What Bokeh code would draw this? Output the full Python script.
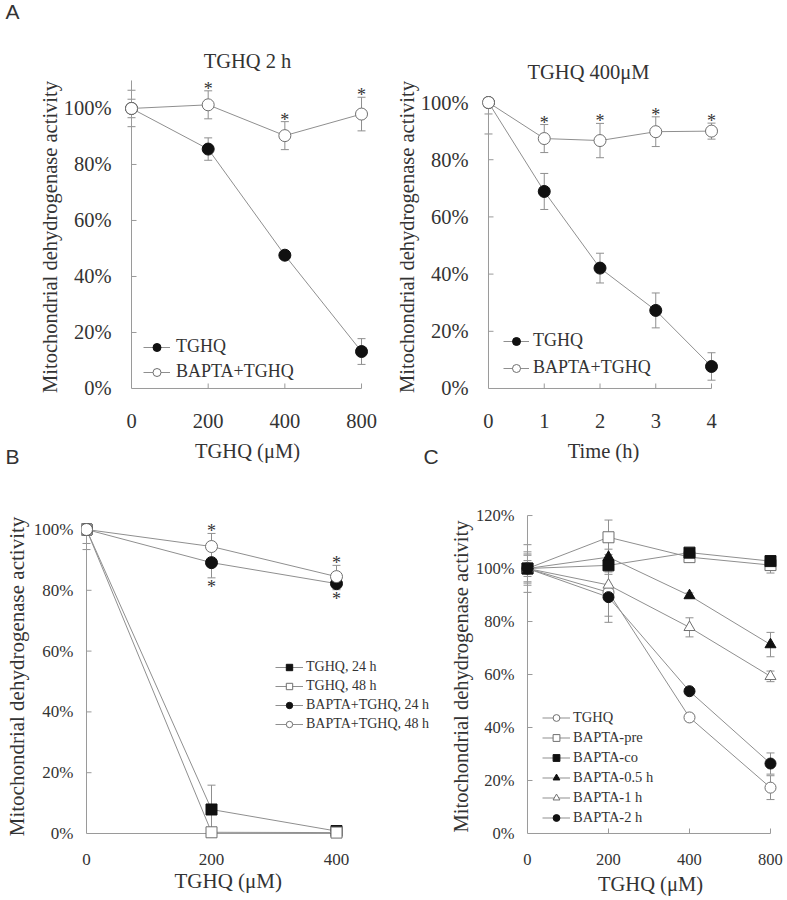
import math
from bokeh.plotting import figure
from bokeh.models import (ColumnDataSource, Whisker, TeeHead, Legend, LegendItem,
                          FixedTicker, PrintfTickFormatter, Range1d, Title)
from bokeh.layouts import row, column
from bokeh.embed import file_html
from bokeh.resources import INLINE
from bokeh.core.properties import value

# ------------------------------------------------------------------ data
# Panel A, left: TGHQ 2 h (dose response)
a1_labels = ["0", "200", "400", "800"]
a1_tghq = [100, 85.5, 47.6, 13.2]
a1_tghq_err = [3.3, 4.0, 1.5, 4.6]
a1_bapta = [100, 101.3, 90.3, 98.0]
a1_bapta_err = [6.5, 5.0, 5.0, 6.0]
a1_sig = [1, 2, 3]

# Panel A, right: TGHQ 400 uM (time course)
a2_time = [0, 1, 2, 3, 4]
a2_tghq = [100, 68.9, 42.1, 27.3, 7.7]
a2_tghq_err = [4.0, 6.3, 5.2, 6.1, 4.8]
a2_bapta = [100, 87.4, 86.7, 89.8, 90.0]
a2_bapta_err = [11.0, 4.9, 6.0, 5.2, 2.8]
a2_sig = [1, 2, 3, 4]

# Panel B
b_conc = [0, 200, 400]
b_tghq24 = [100, 7.9, 0.8]
b_tghq24_err = [6.6, 8.0, 0.5]
b_tghq48 = [100, 0.4, 0.3]
b_tghq48_err = [4.6, 0.4, 0.3]
b_bapta24 = [100, 89.1, 82.2]
b_bapta24_err = [0.0, 5.0, 2.0]
b_bapta48 = [100, 94.4, 84.5]
b_bapta48_err = [0.0, 4.3, 3.7]
b_sig = [1, 2]

# Panel C
c_labels = ["0", "200", "400", "800"]
c_tghq = [100, 91.0, 43.8, 17.3]
c_tghq_err = [9.0, 9.0, 1.5, 4.5]
c_pre = [100, 111.8, 104.3, 101.3]
c_pre_err = [5.5, 6.5, 1.0, 3.0]
c_co = [100, 101.2, 106.0, 102.8]
c_co_err = [2.0, 2.0, 1.0, 2.0]
c_h05 = [100, 104.3, 89.8, 71.3]
c_h05_err = [6.3, 3.0, 1.0, 4.6]
c_h1 = [100, 93.8, 77.8, 59.3]
c_h1_err = [5.0, 4.0, 3.6, 2.0]
c_h2 = [100, 89.2, 53.7, 26.4]
c_h2_err = [3.0, 9.5, 1.0, 4.0]

pct_ticks_100 = [0, 20, 40, 60, 80, 100]
pct_ticks_120 = [0, 20, 40, 60, 80, 100, 120]

# ------------------------------------------------------------------ style
SERIF = "Liberation Serif"
SANS = "Liberation Sans"
TXT = "#333333"
AX = "#9a9a9a"
LN = "#8f8f8f"
EDGE = "#6f6f6f"
BLACK = "#111111"


def make_panel(frame_w, frame_h, borders, xr, yr, xbound, ybound, xticks,
               yticks, tick_px, label_px, xlabel, ylabel, x_standoff,
               y_standoff, xlab_standoff, ylab_standoff):
    left, right, top, bottom = borders
    p = figure(frame_width=frame_w, frame_height=frame_h,
               x_range=Range1d(*xr), y_range=Range1d(*yr),
               output_backend="svg", toolbar_location=None,
               min_border_left=left, min_border_right=right,
               min_border_top=top, min_border_bottom=bottom)
    p.outline_line_color = None
    p.xgrid.visible = False
    p.ygrid.visible = False
    for ax in (p.xaxis[0], p.yaxis[0]):
        ax.axis_line_color = None
        ax.major_tick_line_color = None
        ax.minor_tick_line_color = None
        ax.major_tick_out = 0
        ax.major_tick_in = 0
        ax.minor_tick_out = 0
        ax.minor_tick_in = 0
        ax.major_label_text_font = SERIF
        ax.major_label_text_color = TXT
        ax.major_label_text_font_size = tick_px
        ax.axis_label_text_font = SERIF
        ax.axis_label_text_font_style = "normal"
        ax.axis_label_text_color = TXT
        ax.axis_label_text_font_size = label_px
    if xlabel:
        p.xaxis[0].axis_label = xlabel
    p.yaxis[0].axis_label = ylabel
    p.xaxis[0].major_label_standoff = x_standoff
    p.yaxis[0].major_label_standoff = y_standoff
    p.xaxis[0].axis_label_standoff = xlab_standoff
    p.yaxis[0].axis_label_standoff = ylab_standoff
    p.xaxis[0].ticker = FixedTicker(ticks=xticks)
    p.yaxis[0].ticker = FixedTicker(ticks=yticks)
    p.yaxis[0].formatter = PrintfTickFormatter(format="%d%%")
    # axis lines and inward ticks, drawn at the data origin
    p.segment(x0=[xbound[0], 0], y0=[0, ybound[0]], x1=[xbound[1], 0],
              y1=[0, ybound[1]], line_color=AX, line_width=1)
    yt = [t for t in yticks if t > 0]
    xt = [t for t in xticks if t > 0]
    p.ray(x=[0] * len(yt), y=yt, length=5, length_units="screen", angle=0,
          line_color=AX, line_width=1)
    p.ray(x=xt, y=[0] * len(xt), length=5, length_units="screen",
          angle=math.pi / 2, line_color=AX, line_width=1)
    return p


def add_title(p, text, side, align, offset, standoff, font, px,
              valign="bottom"):
    t = Title(text=text, align=align, offset=offset, standoff=standoff,
              vertical_align=valign, text_font=font, text_font_size=px,
              text_font_style="normal", text_color=TXT)
    p.add_layout(t, side)
    return t


def series(p, xs, ys, errs, marker, filled, size, ytop):
    line = p.line(xs, ys, line_color=LN, line_width=1)
    lower = [y - e for y, e in zip(ys, errs)]
    upper = [min(y + e, ytop) for y, e in zip(ys, errs)]
    src = ColumnDataSource(dict(x=xs, lower=lower, upper=upper))
    w = Whisker(source=src, base="x", lower="lower", upper="upper",
                line_color=LN, line_width=1, level="underlay",
                upper_head=TeeHead(size=8, line_color=LN, line_width=1),
                lower_head=TeeHead(size=8, line_color=LN, line_width=1))
    p.add_layout(w)
    sc = p.scatter(xs, ys, marker=marker, size=size,
                   fill_color=BLACK if filled else "white",
                   line_color=BLACK if filled else EDGE, line_width=1)
    return line, sc, upper, lower


def stars(p, xs, ys, px, yoff):
    p.text(x=xs, y=ys, text=["*"] * len(xs), text_font=value(SERIF),
           text_font_size=px, text_align="center", text_baseline="middle",
           text_color=TXT, y_offset=yoff)


def legend(p, items, loc, font_px, glyph_w, row_h, spacing, standoff):
    leg = Legend(items=[LegendItem(label=l, renderers=r) for l, r in items],
                 location=loc, orientation="vertical",
                 label_text_font=SERIF, label_text_font_size=font_px,
                 label_text_color=TXT, glyph_width=glyph_w,
                 glyph_height=row_h, label_height=row_h, spacing=spacing,
                 padding=0, margin=0, label_standoff=standoff,
                 border_line_color=None, background_fill_alpha=0)
    p.add_layout(leg)


Y_LABEL = "Mitochondrial dehydrogenase activity"
X_CONC = "TGHQ (\u03bcM)"

# ------------------------------------------------------------------ panel A left
x1 = list(range(len(a1_labels)))
p1 = make_panel(246, 317, (124, 22, 78, 75), (-0.0913, 3.117), (-2.5, 110.7),
                (0, 3), (0, 110), x1, pct_ticks_100, "20.5px", "20.5px",
                X_CONC, Y_LABEL, 18, 13, 9, 0)
p1.xaxis[0].major_label_overrides = {i: l for i, l in zip(x1, a1_labels)}
add_title(p1, "TGHQ 2 h", "above", "center", 0, 14, SERIF, "20.5px")
add_title(p1, "A\n", "above", "left", -119, -15, SANS, "21px", valign="top")
add_title(p1, "B", "below", "left", -119, -40, SANS, "21px", valign="top")
l1a, s1a, _, _ = series(p1, x1, a1_tghq, a1_tghq_err, "circle", True, 12, 110)
l1b, s1b, up1b, _ = series(p1, x1, a1_bapta, a1_bapta_err, "circle", False, 12, 110)
stars(p1, [x1[i] for i in a1_sig], [up1b[i] for i in a1_sig], "18px", -2)
legend(p1, [("TGHQ", [l1a, s1a]), ("BAPTA+TGHQ", [l1b, s1b])],
       (19, 13), "18px", 27, 20, 4, 6)

# ------------------------------------------------------------------ panel A right
p2 = make_panel(242, 317, (84, 69, 78, 75), (-0.1076, 4.233), (-2.45, 108.4),
                (0, 4), (0, 100), a2_time, pct_ticks_100, "20.5px", "20.5px",
                "Time (h)", Y_LABEL, 18, 14, 9, 0)
add_title(p2, "TGHQ 400\u03bcM", "above", "left", 45, -8, SERIF, "20.5px")
add_title(p2, "C", "below", "left", -59, -40, SANS, "21px", valign="top")
l2a, s2a, _, _ = series(p2, a2_time, a2_tghq, a2_tghq_err, "circle", True, 12, 100)
l2b, s2b, up2b, _ = series(p2, a2_time, a2_bapta, a2_bapta_err, "circle", False, 12, 100)
stars(p2, [a2_time[i] for i in a2_sig], [up2b[i] for i in a2_sig], "18px", -2)
legend(p2, [("TGHQ", [l2a, s2a]), ("BAPTA+TGHQ", [l2b, s2b])],
       (21, 17), "18px", 26, 20, 6, 4)

# ------------------------------------------------------------------ panel B
p3 = make_panel(359, 332, (81, 5, 40, 58), (-8.0, 566.4), (-2.96, 106.25),
                (0, 400), (0, 100), b_conc, pct_ticks_100, "17px", "21px",
                None, Y_LABEL, 11, 8, 1, 2)
add_title(p3, X_CONC, "below", "left", 93, 3, SERIF, "21px", valign="top")
l3a, s3a, _, _ = series(p3, b_conc, b_tghq24, b_tghq24_err, "square", True, 11, 100)
l3b, s3b, _, _ = series(p3, b_conc, b_tghq48, b_tghq48_err, "square", False, 11, 100)
l3c, s3c, _, lo3c = series(p3, b_conc, b_bapta24, b_bapta24_err, "circle", True, 12, 100)
l3d, s3d, up3d, _ = series(p3, b_conc, b_bapta48, b_bapta48_err, "circle", False, 12, 100)
stars(p3, [b_conc[i] for i in b_sig], [up3d[i] for i in b_sig], "18px", -2)
stars(p3, [b_conc[i] for i in b_sig], [lo3c[i] for i in b_sig], "18px", 9)
legend(p3, [("TGHQ, 24 h", [l3a, s3a]), ("TGHQ, 48 h", [l3b, s3b]),
            ("BAPTA+TGHQ, 24 h", [l3c, s3c]), ("BAPTA+TGHQ, 48 h", [l3d, s3d])],
       (194, 110), "14px", 28, 16, 3, 3)

# ------------------------------------------------------------------ panel C
x4 = list(range(len(c_labels)))
p4 = make_panel(260, 332, (75, 7, 40, 58), (-0.0864, 3.1235), (-3.4, 121.9),
                (0, 3), (0, 120), x4, pct_ticks_120, "16.5px", "20.5px",
                X_CONC, Y_LABEL, 11, 6, 5, 1)
p4.xaxis[0].major_label_overrides = {i: l for i, l in zip(x4, c_labels)}
c_series = [
    ("TGHQ", c_tghq, c_tghq_err, "circle", False),
    ("BAPTA-pre", c_pre, c_pre_err, "square", False),
    ("BAPTA-co", c_co, c_co_err, "square", True),
    ("BAPTA-0.5 h", c_h05, c_h05_err, "triangle", True),
    ("BAPTA-1 h", c_h1, c_h1_err, "triangle", False),
    ("BAPTA-2 h", c_h2, c_h2_err, "circle", True),
]
c_items = []
for name, ys, es, mk, filled in c_series:
    ln, sc, _, _ = series(p4, x4, ys, es, mk, filled, 11, 120)
    c_items.append((name, [ln, sc]))
legend(p4, c_items, (22, 16), "14.5px", 28, 17, 3, 3)

layout = column(row(p1, p2), row(p3, p4))
open("out.html", "w").write(file_html(layout, INLINE))
